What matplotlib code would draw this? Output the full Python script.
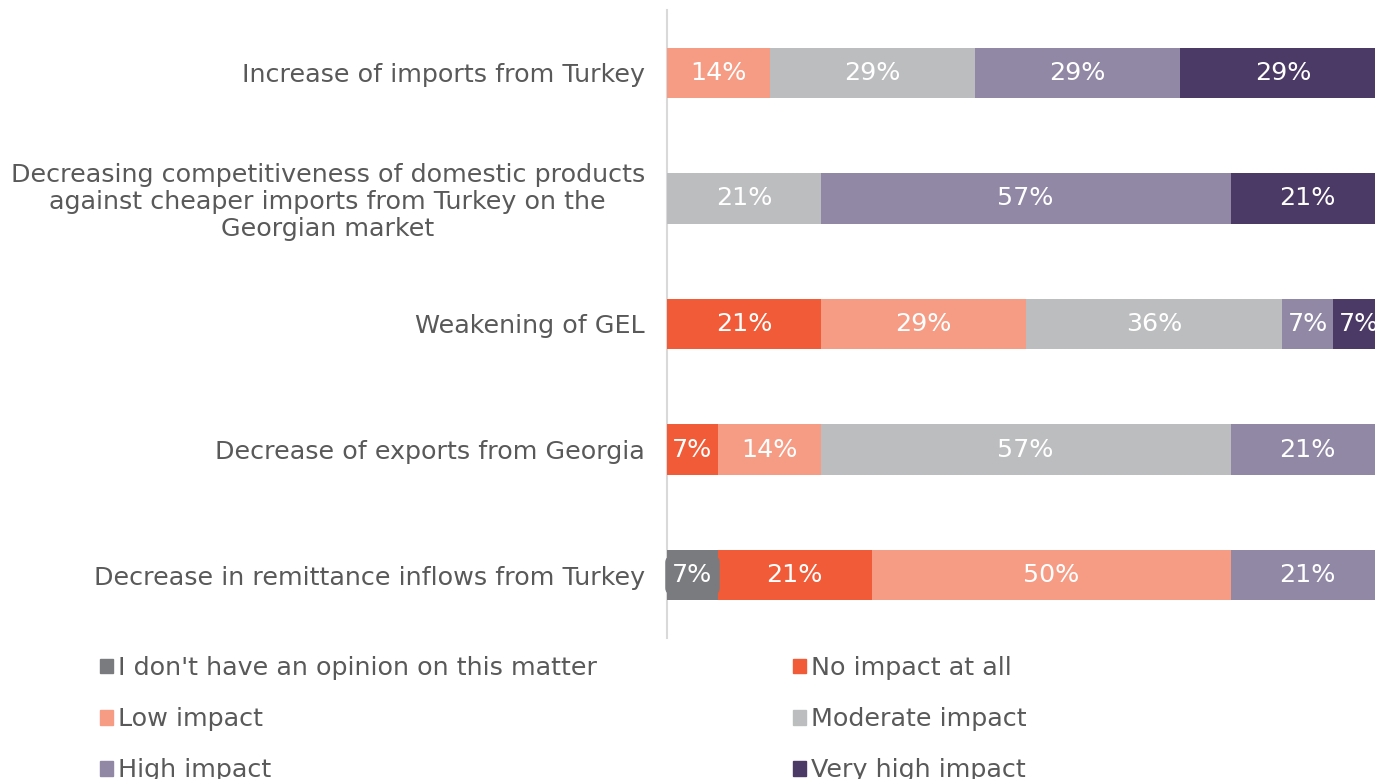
import numpy as np
import matplotlib.pyplot as plt
from matplotlib.patches import Patch

# categories, top to bottom
categories = [
    "Increase of imports from Turkey",
    "Decreasing competitiveness of domestic products\nagainst cheaper imports from Turkey on the\nGeorgian market",
    "Weakening of GEL",
    "Decrease of exports from Georgia",
    "Decrease in remittance inflows from Turkey",
]

series = ["I don't have an opinion on this matter", "No impact at all", "Low impact",
          "Moderate impact", "High impact", "Very high impact"]
colors = ["#797b7e", "#f15b37", "#f69c85", "#bcbdbf", "#9188a6", "#4b3966"]

# shares in %, one list per answer
no_opinion = [0, 0, 0, 0, 7.1]
no_impact = [0, 0, 21.4, 7.1, 21.4]
low = [14.3, 0, 28.6, 14.3, 50.0]
moderate = [28.6, 21.4, 35.7, 57.1, 0]
high = [28.6, 57.1, 7.1, 21.4, 21.4]
very_high = [28.6, 21.4, 7.1, 0, 0]
values = [no_opinion, no_impact, low, moderate, high, very_high]

text_col = "#595959"
fs = 18.3
plt.rcParams['font.family'] = ['DejaVu Sans']

fig = plt.figure(figsize=(13.75, 7.79), dpi=100)
ax = fig.add_axes([667/1375, (779-638)/779, 718/1375, 628/779])

y = np.arange(len(categories))
left = np.zeros(len(categories))
for name, vals, c in zip(series, values, colors):
    vals = np.array(vals)
    ax.barh(y, vals, left=left, height=0.4, color=c, label=name, zorder=2)
    for yi, l, v in zip(y, left, vals):
        if v <= 0:
            continue
        kw = {}
        if name == series[0]:
            # the first answer gets a small rounded label box
            kw['bbox'] = dict(boxstyle="round,pad=0.28,rounding_size=0.25", fc=c, ec='none')
        ax.text(l + v/2, yi, f"{round(v)}%", ha='center', va='center',
                color='white', fontsize=fs, zorder=4 if kw else 3, **kw)
    left += vals

ax.set_xlim(0, 100)
ax.set_ylim(4.5, -0.5)
ax.set_yticks(y)
ax.set_yticklabels(categories, fontsize=fs, color=text_col)
for lab in ax.get_yticklabels():
    lab.set_multialignment('center')
    lab.set_linespacing(1.15)
ax.tick_params(axis='y', length=0, pad=16)
ax.set_xticks([])
for s in ['top', 'right', 'bottom']:
    ax.spines[s].set_visible(False)
ax.spines['left'].set_color('#d9d9d9')
ax.spines['left'].set_linewidth(1.5)
ax.spines['left'].set_zorder(1)

handles = [Patch(color=c) for c in colors]
leg_kw = dict(frameon=False, fontsize=fs, labelcolor=text_col, handlelength=0.52,
              handleheight=0.52, handletextpad=0.2, labelspacing=1.07,
              loc='upper left', borderaxespad=0, borderpad=0)
leg1 = fig.legend(handles[0::2], series[0::2], bbox_to_anchor=(100/1375, 1 - 656/779), **leg_kw)
leg2 = fig.legend(handles[1::2], series[1::2], bbox_to_anchor=(793/1375, 1 - 656/779), **leg_kw)

fig.savefig("out.png", dpi=100)
